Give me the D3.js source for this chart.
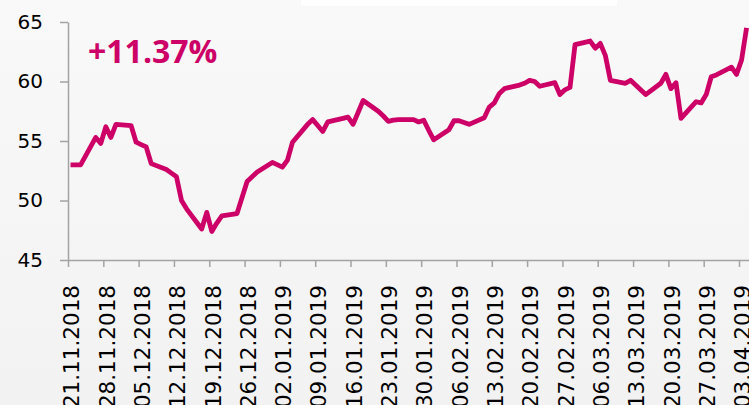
<!DOCTYPE html>
<html>
<head>
<meta charset="utf-8">
<script src="https://cdn.jsdelivr.net/npm/d3@7"></script>
<style>
  html, body { margin: 0; padding: 0; background: #fff; }
  svg { display: block; }
</style>
</head>
<body>
<div id="chart"></div>
<script>
// daily closes
var dates = [
  "2018-11-21","2018-11-22","2018-11-23","2018-11-26","2018-11-27","2018-11-28","2018-11-29","2018-11-30",
  "2018-12-03","2018-12-04","2018-12-05","2018-12-06","2018-12-07","2018-12-10","2018-12-11","2018-12-12",
  "2018-12-13","2018-12-14","2018-12-17","2018-12-18","2018-12-19","2018-12-20","2018-12-21","2018-12-24",
  "2018-12-26","2018-12-27","2018-12-28","2018-12-31","2019-01-02","2019-01-03","2019-01-04","2019-01-07",
  "2019-01-08","2019-01-09","2019-01-10","2019-01-11","2019-01-14","2019-01-15","2019-01-16","2019-01-17",
  "2019-01-18","2019-01-21","2019-01-22","2019-01-23","2019-01-24","2019-01-25","2019-01-28","2019-01-29",
  "2019-01-30","2019-01-31","2019-02-01","2019-02-04","2019-02-05","2019-02-06","2019-02-07","2019-02-08",
  "2019-02-11","2019-02-12","2019-02-13","2019-02-14","2019-02-15","2019-02-18","2019-02-19","2019-02-20",
  "2019-02-21","2019-02-22","2019-02-25","2019-02-26","2019-02-27","2019-02-28","2019-03-01","2019-03-04",
  "2019-03-05","2019-03-06","2019-03-07","2019-03-08","2019-03-11","2019-03-12","2019-03-13","2019-03-14",
  "2019-03-15","2019-03-18","2019-03-19","2019-03-20","2019-03-21","2019-03-22","2019-03-25","2019-03-26",
  "2019-03-27","2019-03-28","2019-03-29","2019-04-01","2019-04-02","2019-04-03","2019-04-04"
];
var prices = [
  53.0, 53.0, 53.0, 55.3, 54.8, 56.2, 55.3, 56.4,
  56.3, 54.9, 54.7, 54.5, 53.1, 52.6, 52.3, 52.0,
  50.0, 49.3, 47.6, 49.0, 47.4, 48.1, 48.7, 48.9,
  51.6, 52.0, 52.4, 53.2, 52.8, 53.4, 54.9, 56.4,
  56.8, 56.3, 55.8, 56.6, 56.9, 57.0, 56.4, 57.4,
  58.4, 57.5, 57.1, 56.65, 56.75, 56.8, 56.8, 56.6,
  56.75, 55.9, 55.1, 55.95, 56.7, 56.7, 56.55, 56.4,
  56.95, 57.85, 58.2, 59.0, 59.4, 59.7, 59.85, 60.1,
  60.0, 59.6, 59.9, 58.9, 59.3, 59.5, 63.1, 63.4,
  62.8, 63.2, 62.2, 60.1, 59.85, 60.1, 59.7, 59.3,
  58.9, 59.85, 60.6, 59.4, 59.9, 56.9, 58.3, 58.2,
  58.9, 60.4, 60.55, 61.2, 60.6, 61.8, 64.5
];
var tickLabels = [
  "21.11.2018","28.11.2018","05.12.2018","12.12.2018","19.12.2018","26.12.2018","02.01.2019",
  "09.01.2019","16.01.2019","23.01.2019","30.01.2019","06.02.2019","13.02.2019","20.02.2019",
  "27.02.2019","06.03.2019","13.03.2019","20.03.2019","27.03.2019","03.04.2019"
];
var yTicks = [45, 50, 55, 60, 65];
var changeLabel = "+11.37%";

var width = 749;
var height = 405;
var lineColor = "#cc0066";
var axisColor = "#a3a3a3";

var svg = d3.select("#chart")
  .append("svg")
  .attr("width", width)
  .attr("height", height);

// soft grey background
var defs = svg.append("defs");
var grad = defs.append("linearGradient")
  .attr("id", "bg")
  .attr("x1", 0).attr("y1", 0).attr("x2", 0).attr("y2", 1);
grad.append("stop").attr("offset", "0%").attr("stop-color", "#f9f9f9");
grad.append("stop").attr("offset", "100%").attr("stop-color", "#f2f2f2");

svg.append("rect")
  .attr("width", width)
  .attr("height", height)
  .attr("fill", "url(#bg)");

svg.append("rect")
  .attr("x", 301)
  .attr("y", 0)
  .attr("width", 316)
  .attr("height", 6)
  .attr("fill", "#ffffff");

var parseDay = d3.utcParse("%Y-%m-%d");
var parseLabel = d3.utcParse("%d.%m.%Y");

var data = dates.map(function(d, i){
  return {date: parseDay(d), value: prices[i]};
});
var tickDates = tickLabels.map(function(t){ return parseLabel(t); });

var startDay = tickDates[0];
var endDay = d3.utcDay.offset(startDay, 135);

var x_scale = d3.scaleUtc()
  .domain([startDay, endDay])
  .range([68, 749.1]);

var y_scale = d3.scaleLinear()
  .domain([45, 65])
  .range([260, 22]);

// y axis
var yAxis = d3.axisLeft(y_scale)
  .tickValues(yTicks)
  .tickSize(8)
  .tickSizeOuter(0)
  .tickPadding(17);

var yg = svg.append("g")
  .attr("class", "yAxis")
  .attr("transform", "translate(68,0)")
  .call(yAxis);
yg.select(".domain").attr("stroke", axisColor).attr("stroke-width", 1.5);
yg.selectAll(".tick line").attr("stroke", axisColor).attr("stroke-width", 1.5);
yg.selectAll(".tick text")
  .attr("fill", "#000")
  .style("font-family", "'DejaVu Sans', sans-serif")
  .style("font-size", "20px");

// x axis, labels centred on each day slot
var xAxis = d3.axisBottom(x_scale)
  .tickValues(tickDates)
  .tickSize(7)
  .tickSizeOuter(0)
  .tickFormat(function(d, i){ return tickLabels[i]; });

var xg = svg.append("g")
  .attr("class", "xAxis")
  .attr("transform", "translate(0,260)")
  .call(xAxis);
xg.select(".domain").attr("stroke", axisColor).attr("stroke-width", 1.5);
xg.selectAll(".tick line").attr("stroke", axisColor).attr("stroke-width", 1.5);
xg.selectAll(".tick text")
  .attr("x", 0)
  .attr("y", 0)
  .attr("dy", "0.36em")
  .attr("transform", "translate(3,25) rotate(-90)")
  .attr("text-anchor", "end")
  .attr("fill", "#000")
  .style("font-family", "'DejaVu Sans', sans-serif")
  .style("font-size", "21.5px");

// price line, each point at the middle of its day
var line = d3.line()
  .x(function(d){ return x_scale(d3.utcHour.offset(d.date, 12)); })
  .y(function(d){ return y_scale(d.value); });

svg.append("path")
  .datum(data)
  .attr("d", line)
  .attr("fill", "none")
  .attr("stroke", lineColor)
  .attr("stroke-width", 4.8)
  .attr("stroke-linejoin", "round");

svg.append("text")
  .attr("x", 88)
  .attr("y", 63)
  .attr("fill", lineColor)
  .style("font-family", "'Open Sans', sans-serif")
  .style("font-weight", "bold")
  .style("font-size", "32px")
  .text(changeLabel);
</script>
</body>
</html>
